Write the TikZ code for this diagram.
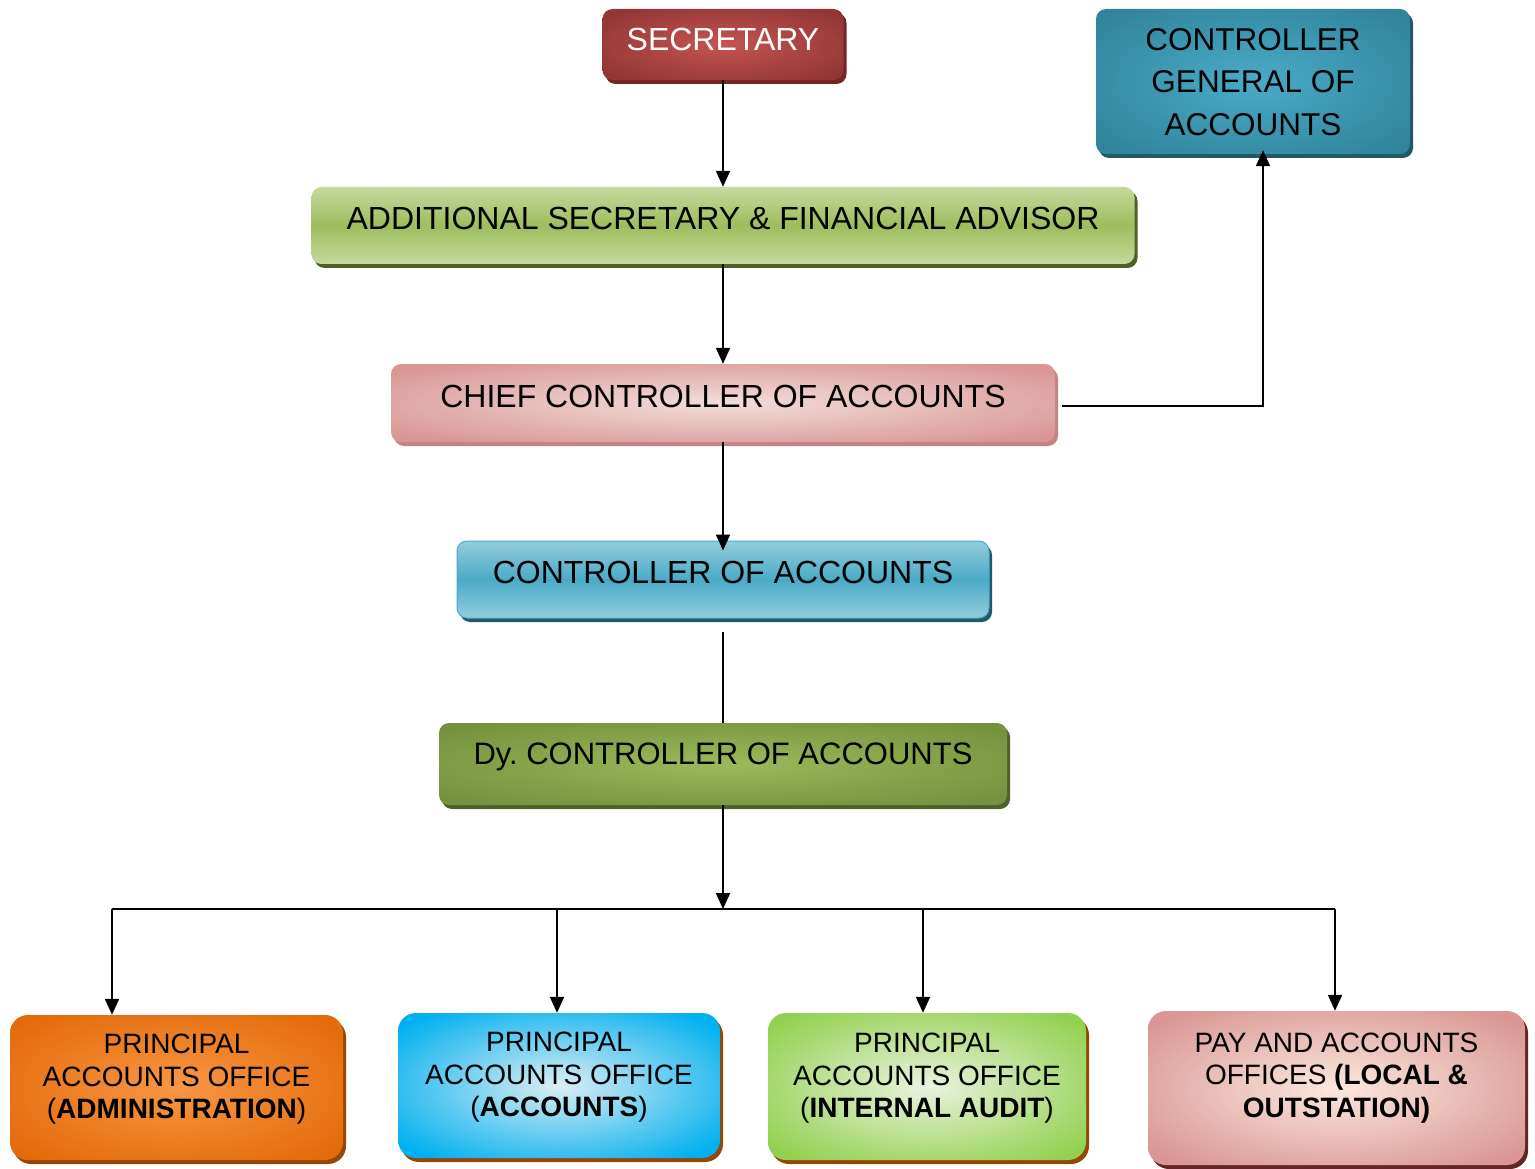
\documentclass[tikz,border=0pt]{standalone}
\usepackage{fontspec}
\setmainfont{Liberation Sans}
\usetikzlibrary{arrows.meta,shadows}
\definecolor{SecClr}{rgb}{0.57,0.21,0.20}
\definecolor{SecLightClr}{rgb}{0.77,0.33,0.32}
\definecolor{SecShClr}{rgb}{0.45,0.15,0.14}
\definecolor{CgaClr}{rgb}{0.19,0.52,0.61}
\definecolor{CgaLightClr}{rgb}{0.29,0.67,0.78}
\definecolor{CgaShClr}{rgb}{0.13,0.35,0.40}
\definecolor{AddClr}{rgb}{0.62,0.74,0.36}
\definecolor{AddLightClr}{rgb}{0.78,0.85,0.62}
\definecolor{AddShClr}{rgb}{0.31,0.38,0.16}
\definecolor{ChiefClr}{rgb}{0.85,0.59,0.58}
\definecolor{ChiefLightClr}{rgb}{0.95,0.87,0.86}
\definecolor{ChiefShClr}{rgb}{0.76,0.52,0.51}
\definecolor{CtrlClr}{rgb}{0.29,0.67,0.78}
\definecolor{CtrlLightClr}{rgb}{0.58,0.80,0.87}
\definecolor{CtrlShClr}{rgb}{0.13,0.35,0.41}
\definecolor{DyClr}{rgb}{0.46,0.57,0.24}
\definecolor{DyLightClr}{rgb}{0.61,0.73,0.35}
\definecolor{AdmClr}{rgb}{0.89,0.42,0.04}
\definecolor{AdmLightClr}{rgb}{0.97,0.59,0.27}
\definecolor{BrownShClr}{rgb}{0.59,0.28,0.02}
\definecolor{AccClr}{rgb}{0.0,0.69,0.94}
\definecolor{AccLightClr}{rgb}{0.86,0.93,0.95}
\definecolor{AudClr}{rgb}{0.57,0.82,0.31}
\definecolor{AudLightClr}{rgb}{0.92,0.95,0.87}
\definecolor{PayClr}{rgb}{0.85,0.59,0.58}
\definecolor{PayLightClr}{rgb}{0.99,0.91,0.86}
\definecolor{PayShClr}{rgb}{0.39,0.15,0.14}

\newcommand\DeclGlow[3]{\pgfdeclareradialshading{#1}{\pgfpointorigin}{color(0bp)=(#2); color(32bp)=(#3); color(50bp)=(#3)}}
\DeclGlow{GlowSec}{SecLightClr}{SecClr}
\DeclGlow{GlowCga}{CgaLightClr}{CgaClr}
\DeclGlow{GlowChief}{ChiefLightClr}{ChiefClr}
\DeclGlow{GlowDy}{DyLightClr}{DyClr}
\DeclGlow{GlowAdm}{AdmLightClr}{AdmClr}
\DeclGlow{GlowAcc}{AccLightClr}{AccClr}
\DeclGlow{GlowAud}{AudLightClr}{AudClr}
\DeclGlow{GlowPay}{PayLightClr}{PayClr}

\tikzset{
  topbox/.style={rounded corners=10pt,inner sep=0pt,align=center,
    font=\fontsize{32}{43}\selectfont,text height=23pt},
  lowbox/.style={rounded corners=18pt,inner sep=0pt,align=center,
    font=\fontsize{28}{32.5}\selectfont,text depth=22pt},
  shade/.style={drop shadow={shadow xshift=3pt,shadow yshift=-4pt,opacity=1,fill=#1}},
  ln/.style={line width=2pt},
  arr/.style={line width=2pt,-{Triangle[width=14pt,length=16pt]}}
}

\begin{document}
\begin{tikzpicture}[x=1pt,y=-1pt]
\useasboundingbox (0,0) rectangle (1535,1169);

\node[topbox,shading=GlowSec,shade=SecShClr,text=white,minimum width=241pt,minimum height=71pt,text depth=11pt] (sec) at (723,44.5) {SECRETARY};
\node[topbox,shading=GlowCga,shade=CgaShClr,minimum width=314pt,minimum height=145pt,text height=107.5pt,text depth=0pt,font=\fontsize{31.5}{42.5}\selectfont] (cga) at (1253,81.5) {CONTROLLER\\GENERAL OF\\ACCOUNTS};
\node[topbox,top color=AddLightClr,bottom color=AddLightClr,middle color=AddClr,shade=AddShClr,minimum width=823pt,minimum height=77pt,text depth=15pt] (addsec) at (723,225.5) {ADDITIONAL SECRETARY \& FINANCIAL ADVISOR};
\node[topbox,shading=GlowChief,shade=ChiefShClr,minimum width=664pt,minimum height=78pt,text depth=14pt] (chief) at (723,403) {CHIEF CONTROLLER OF ACCOUNTS};
\node[topbox,top color=CtrlLightClr,bottom color=CtrlLightClr,middle color=CtrlClr,draw=CtrlClr,line width=1pt,shade=CtrlShClr,minimum width=532pt,minimum height=77pt,text depth=15pt] (ctrl) at (723,579.5) {CONTROLLER OF ACCOUNTS};
\node[topbox,shading=GlowDy,shade=AddShClr,minimum width=568pt,minimum height=82pt,text depth=22pt,font=\fontsize{31}{42}\selectfont] (dy) at (723,764) {Dy.\ CONTROLLER OF ACCOUNTS};

\node[lowbox,shading=GlowAdm,shade=BrownShClr,minimum width=333pt,minimum height=145pt] (pao1) at (176.5,1087.5) {PRINCIPAL\\ACCOUNTS OFFICE\\(\textbf{ADMINISTRATION})};
\node[lowbox,shading=GlowAcc,shade=BrownShClr,minimum width=322pt,minimum height=145pt] (pao2) at (559,1085.5) {PRINCIPAL\\ACCOUNTS OFFICE\\(\textbf{ACCOUNTS})};
\node[lowbox,shading=GlowAud,shade=BrownShClr,minimum width=318pt,minimum height=147pt] (pao3) at (927,1086.5) {PRINCIPAL\\ACCOUNTS OFFICE\\(\textbf{INTERNAL AUDIT})};
\node[lowbox,shading=GlowPay,shade=PayShClr,minimum width=377pt,minimum height=154pt,text depth=26pt] (pao4) at (1336.5,1088) {PAY AND ACCOUNTS\\OFFICES \textbf{(LOCAL \&}\\\textbf{OUTSTATION)}};

\coordinate (bus) at (723,909);
\coordinate (b1) at (112,909);
\coordinate (b2) at (557,909);
\coordinate (b3) at (923,909);
\coordinate (b4) at (1335,909);

\draw[arr] (sec.south) -- (addsec.north);
\draw[arr] (addsec.south) -- (chief.north);
\draw[arr] (chief.south) -- ([yshift=-10pt]ctrl.north);
\draw[arr] ([xshift=7pt,yshift=-3pt]chief.east) -| ([xshift=10pt,yshift=4pt]cga.south);
\draw[ln] ([yshift=-13pt]ctrl.south) -- (dy.north);
\draw[arr] (dy.south) -- (bus);

\draw[ln] (b1) -- (b4);
\draw[arr] (b1) -- (b1 |- pao1.north);
\draw[arr] (b2) -- (b2 |- pao2.north);
\draw[arr] (b3) -- (b3 |- pao3.north);
\draw[arr] (b4) -- (b4 |- pao4.north);

\end{tikzpicture}
\end{document}
